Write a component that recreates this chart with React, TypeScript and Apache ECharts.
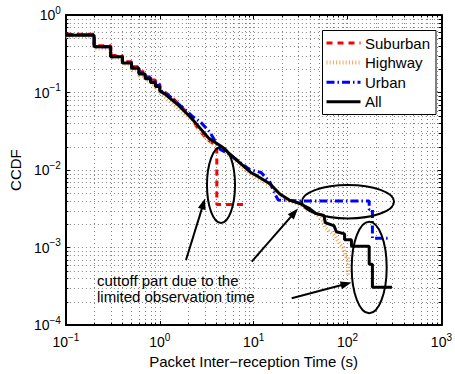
import React, { useEffect, useRef } from 'react';
import * as echarts from 'echarts';

const FONT = '"Liberation Sans", Arial, Helvetica, sans-serif';

const seriesNames = ['Suburban', 'Highway', 'Urban', 'All'];
const seriesColors = ['#ff0000', '#f2a55c', '#0000ff', '#000000'];

const suburbanX = [0.1, 0.2, 0.2, 0.3, 0.3, 0.4, 0.4, 0.5, 0.5, 0.6, 0.6, 0.7, 0.7, 0.8, 0.8, 0.9, 0.9, 1.0, 1.0, 1.3, 1.7, 2.2, 2.6, 3.2, 3.9, 4.05, 4.05, 7.9];
const suburbanY = [0.565, 0.565, 0.4, 0.4, 0.3, 0.3, 0.25, 0.25, 0.215, 0.215, 0.185, 0.185, 0.16, 0.16, 0.145, 0.145, 0.128, 0.128, 0.112, 0.09, 0.066, 0.046, 0.033, 0.025, 0.021, 0.018, 0.0036, 0.0036];

const highwayX = [0.1, 0.2, 0.2, 0.3, 0.3, 0.4, 0.4, 0.5, 0.5, 0.6, 0.6, 0.7, 0.7, 0.8, 0.8, 0.9, 0.9, 1.0, 1.0, 1.5, 2.2, 3.3, 4.5, 6.2, 9.3, 15, 19, 24, 31, 40, 48, 55, 58, 65, 72, 76, 83, 90, 96, 101, 101];
const highwayY = [0.53, 0.53, 0.37, 0.37, 0.28, 0.28, 0.232, 0.232, 0.198, 0.198, 0.166, 0.166, 0.144, 0.144, 0.128, 0.128, 0.115, 0.115, 0.1, 0.066, 0.044, 0.024, 0.019, 0.0135, 0.0088, 0.0063, 0.0048, 0.004, 0.0036, 0.003, 0.0026, 0.0022, 0.0018, 0.0016, 0.00146, 0.00132, 0.0011, 0.001, 0.00077, 0.00077, 0.00043];

const urbanX = [0.1, 0.2, 0.2, 0.3, 0.3, 0.4, 0.4, 0.5, 0.5, 0.6, 0.6, 0.7, 0.7, 0.8, 0.8, 0.9, 0.9, 1.0, 1.0, 1.3, 1.7, 2.2, 2.7, 3.4, 4.4, 5.5, 7.0, 9.0, 12, 15, 17, 18.3, 30, 170, 170, 184, 184, 275];
const urbanY = [0.555, 0.555, 0.39, 0.39, 0.29, 0.29, 0.245, 0.245, 0.21, 0.21, 0.178, 0.178, 0.155, 0.155, 0.138, 0.138, 0.124, 0.124, 0.108, 0.088, 0.066, 0.05, 0.042, 0.031, 0.0185, 0.016, 0.0128, 0.0102, 0.0093, 0.0069, 0.0048, 0.0041, 0.004, 0.004, 0.0031, 0.0031, 0.00132, 0.00132];

const allX = [0.1, 0.2, 0.2, 0.3, 0.3, 0.4, 0.4, 0.5, 0.5, 0.6, 0.6, 0.7, 0.7, 0.8, 0.8, 0.9, 0.9, 1.0, 1.0, 1.13, 1.55, 2.2, 3.3, 4.5, 6.2, 9.3, 10.9, 15, 19, 24, 31, 39, 46, 56, 58, 72, 76, 93, 93, 110, 110, 170, 170, 184, 184, 297];
const allY = [0.55, 0.55, 0.39, 0.39, 0.29, 0.29, 0.24, 0.24, 0.206, 0.206, 0.173, 0.173, 0.15, 0.15, 0.135, 0.135, 0.12, 0.12, 0.105, 0.096, 0.07, 0.046, 0.026, 0.0203, 0.0144, 0.0093, 0.0084, 0.0066, 0.0049, 0.0041, 0.0037, 0.0032, 0.00275, 0.0026, 0.0021, 0.0019, 0.0016, 0.0015, 0.00126, 0.00126, 0.00104, 0.00104, 0.00061, 0.00061, 0.000307, 0.000307];

const xRange = [0.1, 1000];
const yRange = [1e-4, 1];
const xDecadeStarts = [0.1, 1, 10, 100];
const yDecadeStarts = [1e-4, 1e-3, 1e-2, 1e-1];
const minorMultipliers = [2, 3, 4, 5, 6, 7, 8, 9];

const xAxisName = 'Packet Inter\u2212reception Time (s)';
const yAxisName = 'CCDF';
const annotationLines = ['cuttoff part due to the', 'limited observation time'];

const seriesLineStyles: any[] = [
  { width: 3, type: [6, 5] },
  { width: 4, type: [1, 2.2] },
  { width: 3, type: [8, 3, 1.5, 3] },
  { width: 3, type: 'solid' },
];

function zip(xs: number[], ys: number[]) {
  return xs.map((x, i) => [x, ys[i]]);
}

function expLabel(v: number) {
  const e = Math.round(Math.log10(v));
  const s = e < 0 ? '\u2212' + Math.abs(e) : String(e);
  return `{b|10}{e|${s}}`;
}

const labelRich = {
  b: { fontSize: 14, fontFamily: FONT, color: '#000', lineHeight: 20 },
  e: { fontSize: 10, fontFamily: FONT, color: '#000', lineHeight: 20, verticalAlign: 'top' },
};

function arrow(x1: number, y1: number, x2: number, y2: number) {
  const dx = x2 - x1;
  const dy = y2 - y1;
  const len = Math.hypot(dx, dy);
  const ux = dx / len;
  const uy = dy / len;
  const hl = 11;
  const hw = 4;
  const bx = x2 - ux * hl;
  const by = y2 - uy * hl;
  return [
    { type: 'line', z: 100, shape: { x1, y1, x2: bx + ux * 2, y2: by + uy * 2 }, style: { stroke: '#000', lineWidth: 2 } },
    {
      type: 'polygon', z: 100,
      shape: { points: [[x2, y2], [bx - uy * hw, by + ux * hw], [bx + uy * hw, by - ux * hw]] },
      style: { fill: '#000' },
    },
  ];
}

function ellipse(cx: number, cy: number, rx: number, ry: number) {
  return { type: 'ellipse', z: 100, shape: { cx, cy, rx, ry }, style: { fill: 'none', stroke: '#000', lineWidth: 2 } };
}

function dashArray(t: any) {
  return Array.isArray(t) ? t : null;
}

function legendBox(left: number, top: number, width: number, height: number) {
  const els: any[] = [
    {
      type: 'rect', z: 110,
      shape: { x: left + 0.5, y: top + 0.5, width, height },
      style: { fill: '#fff', stroke: '#000', lineWidth: 1 },
    },
  ];
  const rowGap = 19.6;
  seriesNames.forEach((name, i) => {
    const cy = top + 13 + i * rowGap;
    const ls = seriesLineStyles[i];
    els.push({
      type: 'line', z: 111,
      shape: { x1: left + 4.5, y1: cy, x2: left + 38.5, y2: cy },
      style: { stroke: seriesColors[i], lineWidth: ls.width, lineDash: dashArray(ls.type) },
    });
    els.push({
      type: 'text', z: 111, x: left + 43, y: cy,
      style: { text: name, font: `15px ${FONT}`, fill: '#000', textVerticalAlign: 'middle' },
    });
  });
  return els;
}

export default function App() {
  const ref = useRef<HTMLDivElement>(null);
  useEffect(() => {
    if (!ref.current) return;
    const chart = echarts.init(ref.current, undefined, { renderer: 'svg' });

    const lineSeries = (i: number, xs: number[], ys: number[]) => ({
      name: seriesNames[i],
      type: 'line',
      data: zip(xs, ys),
      symbol: 'none',
      showSymbol: false,
      silent: true,
      z: 3,
      lineStyle: { color: seriesColors[i], ...seriesLineStyles[i] },
      itemStyle: { color: seriesColors[i] },
      emphasis: { disabled: true },
    });

    const axisCommon = {
      type: 'log',
      logBase: 10,
      axisLine: { show: true, onZero: false, lineStyle: { color: '#000', width: 2 } },
      axisTick: { show: true, inside: true, length: 4, lineStyle: { color: '#000', width: 1 } },
    };

    const option: any = {
      animation: false,
      textStyle: { fontFamily: FONT },
      grid: { left: 60, top: 15, right: 9, bottom: 44, containLabel: false },
      xAxis: [
        {
          ...axisCommon,
          min: xRange[0],
          max: xRange[1],
          position: 'bottom',
          name: xAxisName,
          nameLocation: 'middle',
          nameGap: 25,
          nameTextStyle: { fontSize: 15, color: '#000', fontFamily: FONT },
          axisLabel: { formatter: expLabel, rich: labelRich, margin: 7, showMinLabel: true, showMaxLabel: true, hideOverlap: false },
          splitLine: { show: true, lineStyle: { color: '#808080', width: 1, type: [1, 3] } },
        },
        {
          ...axisCommon,
          min: xRange[0],
          max: xRange[1],
          position: 'top',
          axisLabel: { show: false },
          splitLine: { show: false },
        },
      ],
      yAxis: [
        {
          ...axisCommon,
          min: yRange[0],
          max: yRange[1],
          position: 'left',
          name: yAxisName,
          nameLocation: 'middle',
          nameGap: 36,
          nameTextStyle: { fontSize: 15, color: '#000', fontFamily: FONT },
          axisLabel: { formatter: expLabel, rich: labelRich, margin: 5, showMinLabel: true, showMaxLabel: true, hideOverlap: false },
          splitLine: { show: true, lineStyle: { color: '#808080', width: 1, type: [1, 3] } },
        },
        {
          ...axisCommon,
          min: yRange[0],
          max: yRange[1],
          position: 'right',
          axisLabel: { show: false },
          splitLine: { show: false },
        },
      ],
      series: [
        {
          type: 'custom',
          coordinateSystem: 'cartesian2d',
          xAxisIndex: 0,
          yAxisIndex: 0,
          silent: true,
          z: 1,
          data: [[1, 0.01]],
          renderItem: (params: any, api: any) => {
            const tl = api.coord([xRange[0], yRange[1]]);
            const br = api.coord([xRange[1], yRange[0]]);
            const children: any[] = [];
            const dot = { stroke: '#808080', lineWidth: 1, lineDash: [1, 3] };
            const tick = { stroke: '#000', lineWidth: 1 };
            xDecadeStarts.forEach((d) =>
              minorMultipliers.forEach((m) => {
                const px = Math.round(api.coord([d * m, yRange[0]])[0]) + 0.5;
                children.push({ type: 'line', shape: { x1: px, y1: tl[1], x2: px, y2: br[1] }, style: dot });
                children.push({ type: 'line', shape: { x1: px, y1: br[1], x2: px, y2: br[1] - 2.5 }, style: tick });
                children.push({ type: 'line', shape: { x1: px, y1: tl[1], x2: px, y2: tl[1] + 2.5 }, style: tick });
              })
            );
            yDecadeStarts.forEach((d) =>
              minorMultipliers.forEach((m) => {
                const py = Math.round(api.coord([xRange[0], d * m])[1]) + 0.5;
                children.push({ type: 'line', shape: { x1: tl[0], y1: py, x2: br[0], y2: py }, style: dot });
                children.push({ type: 'line', shape: { x1: tl[0], y1: py, x2: tl[0] + 2.5, y2: py }, style: tick });
                children.push({ type: 'line', shape: { x1: br[0], y1: py, x2: br[0] - 2.5, y2: py }, style: tick });
              })
            );
            return { type: 'group', children };
          },
        },
        lineSeries(0, suburbanX, suburbanY),
        lineSeries(1, highwayX, highwayY),
        lineSeries(2, urbanX, urbanY),
        lineSeries(3, allX, allY),
      ],
      graphic: [
        ellipse(221, 185, 14, 38),
        ellipse(348, 201.7, 46, 16.7),
        ellipse(369.2, 267.5, 17.5, 45.8),
        ...arrow(186, 260, 205, 198.5),
        ...arrow(251.7, 261.7, 298, 208.5),
        ...arrow(291.7, 298.3, 351.5, 282.5),
        {
          type: 'text', z: 100, x: 97, y: 280,
          style: { text: annotationLines[0], font: `15px ${FONT}`, fill: '#000', textVerticalAlign: 'middle' },
        },
        {
          type: 'text', z: 100, x: 97, y: 296.7,
          style: { text: annotationLines[1], font: `15px ${FONT}`, fill: '#000', textVerticalAlign: 'middle' },
        },
        ...legendBox(322, 30, 113.5, 84),
      ],
    };

    chart.setOption(option);
    return () => chart.dispose();
  }, []);

  return (
    <div
      ref={ref}
      style={{ position: 'fixed', left: 0, top: 0, width: 455, height: 374, background: '#fff' }}
    />
  );
}
